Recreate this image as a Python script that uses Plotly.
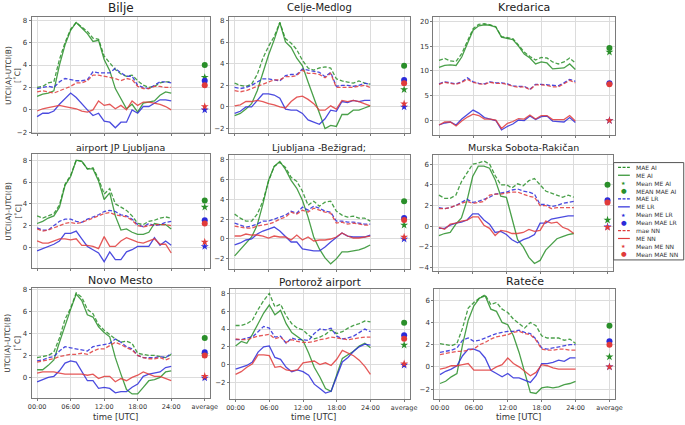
import plotly.graph_objects as go

hours = list(range(25))
avg_x = 30
stations = ["Bilje", "Celje-Medlog", "Kredarica",
            "airport JP Ljubljana", "Ljubljana -Bežigrad;", "Murska Sobota-Rakičan",
            "Novo Mesto", "Portorož airport", "Rateče"]
x_tick_vals = [0, 6, 12, 18, 24, 30]
x_tick_text = ["00:00", "06:00", "12:00", "18:00", "24:00", "average"]

# ---- Bilje
bilje_mae_ai = [2.0, 2.1, 2.4, 2.5, 4.5, 6.0, 7.2, 7.8, 7.4, 7.0, 6.4, 6.3, 4.8, 4.2, 3.6, 3.2, 3.0, 3.1, 2.6, 2.2, 2.0, 2.1, 2.4, 2.5, 2.5]
bilje_me_ai = [1.2, 1.4, 1.5, 1.7, 4.0, 5.8, 7.1, 7.8, 7.3, 6.8, 6.1, 6.2, 4.5, 3.5, 1.9, 1.0, 0.1, 0.5, -0.2, 0.6, 0.7, 0.8, 1.3, 1.6, 1.5]
bilje_mae_lr = [1.9, 2.0, 2.1, 2.0, 2.5, 2.8, 2.7, 2.6, 2.6, 2.7, 3.4, 3.3, 3.3, 3.3, 3.7, 3.3, 3.0, 3.0, 2.2, 2.0, 1.9, 2.2, 2.5, 2.5, 2.4]
bilje_me_lr = [-0.6, -0.3, -0.3, -0.1, 0.5, 1.0, 1.5, 1.1, 0.5, 0.0, -0.5, -0.3, -1.0, -1.1, -1.6, -1.1, -1.1, 0.0, -0.3, 0.3, 0.3, 0.6, 0.9, 0.9, 0.8]
bilje_mae_nn = [1.6, 1.7, 1.6, 1.5, 1.7, 1.9, 2.1, 2.4, 2.4, 2.6, 3.1, 3.1, 3.0, 2.9, 2.8, 2.6, 2.8, 2.7, 2.1, 1.9, 1.9, 2.1, 2.1, 2.0, 2.0]
bilje_me_nn = [-0.1, 0.1, 0.2, 0.3, 0.4, 0.3, 0.2, 0.1, -0.1, -0.2, 0.0, 0.8, 0.4, 0.5, 0.1, 0.4, 0.0, 0.8, 0.4, 0.7, 0.7, 0.6, 0.5, 0.3, 0.0]
bilje_means = [2.9, 4.0, 0.0, 2.6, 0.3, 2.2]  # ME AI, MAE AI, ME LR, MAE LR, ME NN, MAE NN

# ---- Celje-Medlog
celje_mae_ai = [2.2, 2.0, 1.9, 2.1, 3.0, 4.5, 5.6, 6.5, 7.8, 6.3, 5.9, 5.3, 4.3, 3.6, 3.4, 3.6, 3.7, 3.6, 2.6, 2.4, 2.3, 2.2, 2.4, 2.2, 2.1]
celje_me_ai = [-0.8, -0.6, -0.2, 0.3, 1.5, 3.2, 4.8, 6.2, 7.8, 6.0, 5.5, 4.5, 3.8, 2.3, 0.8, -0.6, -2.0, -1.7, -1.8, -0.7, -0.7, -0.3, -0.3, -0.1, 0.1]
celje_mae_lr = [1.8, 1.7, 1.8, 2.0, 2.3, 2.6, 2.6, 2.5, 2.4, 2.9, 3.0, 3.0, 3.5, 3.4, 3.3, 3.2, 2.8, 3.2, 1.9, 2.0, 2.0, 1.9, 2.0, 2.2, 2.1]
celje_me_lr = [-0.6, -0.4, 0.0, 0.0, 0.6, 1.2, 1.2, 1.1, 0.8, -0.2, -0.3, -0.3, -0.6, -1.2, -1.4, -1.6, -1.1, -0.3, -0.4, 0.5, 0.4, 0.6, 0.5, 0.6, 0.6]
celje_mae_nn = [1.5, 1.4, 1.5, 1.7, 1.9, 2.1, 2.3, 2.5, 2.5, 2.8, 2.8, 2.9, 3.4, 3.1, 3.1, 3.0, 2.7, 3.1, 1.8, 1.8, 1.8, 1.8, 1.9, 2.0, 1.8]
celje_me_nn = [0.1, 0.2, 0.5, 0.5, 0.6, 0.5, 0.3, 0.2, 0.0, -0.1, 0.5, 0.9, 1.0, 0.7, 0.3, -0.3, -0.3, 0.1, -0.2, 0.6, 0.5, 0.6, 0.5, 0.3, 0.1]
celje_means = [1.6, 3.8, 0.0, 2.5, 0.3, 2.2]

# ---- Kredarica
kred_mae_ai = [12.1, 12.5, 12.0, 11.9, 13.5, 16.0, 18.5, 19.4, 19.5, 19.3, 18.9, 16.9, 16.7, 16.5, 15.2, 13.8, 12.9, 12.2, 12.7, 12.6, 11.8, 11.4, 11.8, 12.6, 11.6]
kred_me_ai = [10.7, 11.1, 11.2, 11.1, 12.8, 15.5, 18.2, 19.1, 19.3, 19.2, 18.8, 16.8, 16.6, 16.3, 15.0, 13.4, 12.6, 11.4, 11.8, 11.6, 10.4, 10.5, 10.6, 11.4, 10.3]
kred_mae_lr = [7.4, 7.8, 7.6, 7.4, 7.8, 8.6, 7.8, 7.5, 7.4, 7.8, 7.6, 7.6, 7.4, 7.0, 6.9, 6.9, 6.3, 7.3, 7.3, 7.2, 7.0, 7.0, 7.6, 8.3, 7.9]
kred_me_lr = [-0.9, -0.5, -0.3, -0.9, 0.3, 1.3, 2.1, 1.5, 0.6, 0.3, 0.0, -1.9, -1.2, -0.7, 0.1, 0.0, 0.9, 0.2, 0.8, 0.9, -0.1, -0.2, -0.3, 0.6, -0.4]
kred_mae_nn = [7.3, 7.7, 7.5, 7.3, 7.7, 8.3, 7.7, 7.4, 7.3, 7.7, 7.5, 7.5, 7.3, 6.9, 6.7, 6.8, 6.2, 7.2, 7.2, 7.1, 6.8, 6.8, 7.4, 8.1, 7.6]
kred_me_nn = [-0.9, -0.3, -0.3, -1.1, -0.1, 0.7, 1.3, 1.0, 0.3, 0.3, 0.1, -1.6, -0.6, -0.2, 0.4, 0.3, 1.1, 0.3, 1.0, 1.0, 0.2, 0.2, 0.2, 1.0, -0.1]
kred_means = [13.8, 14.6, 0.0, 7.5, 0.0, 7.3]

# ---- airport JP Ljubljana
airp_mae_ai = [2.9, 2.7, 2.9, 3.1, 3.9, 5.8, 6.6, 8.0, 7.9, 7.2, 7.3, 6.3, 4.9, 5.4, 4.0, 3.7, 3.4, 2.9, 2.2, 2.1, 2.4, 2.5, 2.7, 2.8, 2.7]
airp_me_ai = [2.2, 2.4, 2.7, 2.9, 3.7, 5.7, 6.5, 8.0, 7.9, 7.2, 7.2, 6.1, 4.4, 5.0, 2.9, 1.6, 1.7, 1.4, 1.2, 1.2, 1.4, 2.2, 2.1, 2.1, 1.7]
airp_mae_lr = [1.8, 1.6, 1.6, 2.0, 2.4, 2.6, 2.6, 2.4, 2.3, 2.6, 2.8, 3.0, 3.3, 3.4, 3.3, 3.0, 2.9, 2.6, 2.1, 1.9, 2.2, 2.0, 2.1, 2.3, 2.4]
airp_me_lr = [-0.3, -0.1, 0.1, 0.3, 0.6, 1.3, 1.3, 1.5, 0.8, 0.1, -0.2, -0.5, -1.3, -0.4, -1.1, -1.1, -0.4, -0.2, 0.1, 0.1, 0.1, 0.9, 0.2, 0.6, 0.2]
airp_mae_nn = [1.7, 1.5, 1.6, 1.8, 2.0, 2.2, 2.3, 2.2, 2.3, 2.5, 2.7, 2.9, 3.1, 3.2, 3.0, 2.9, 2.8, 2.5, 2.0, 1.9, 2.0, 2.1, 2.1, 2.1, 2.0]
airp_me_nn = [0.6, 0.4, 0.4, 0.6, 0.8, 0.8, 0.7, 0.8, 0.2, 0.2, 0.1, -0.1, 1.0, 0.1, 0.1, 0.6, 0.9, 0.7, 0.5, 0.4, 0.6, 0.8, 0.3, 0.3, -0.5]
airp_means = [3.7, 4.3, 0.1, 2.5, 0.5, 2.2]

# ---- Ljubljana-Bezigrad
bez_mae_ai = [2.5, 2.1, 1.8, 1.8, 2.5, 3.8, 5.8, 7.3, 7.7, 7.2, 6.2, 5.8, 4.8, 3.4, 3.8, 3.3, 3.7, 3.8, 2.8, 2.4, 2.2, 2.3, 2.1, 2.1, 1.8]
bez_me_ai = [-1.7, -1.1, -0.5, 0.2, 1.4, 3.5, 5.9, 7.3, 7.8, 7.0, 5.9, 5.1, 3.9, 2.2, 0.2, -1.0, -1.9, -2.5, -2.0, -1.3, -1.3, -1.2, -1.1, -0.9, -0.6]
bez_mae_lr = [1.6, 1.4, 1.2, 1.3, 1.5, 1.8, 1.8, 2.0, 2.2, 2.4, 2.8, 2.6, 3.2, 2.9, 3.3, 3.1, 2.8, 2.7, 1.8, 1.8, 1.7, 1.7, 1.6, 1.5, 1.5]
bez_me_lr = [-0.6, -0.4, -0.1, 0.0, 0.5, 0.8, 1.0, 1.2, 0.8, 0.2, -0.3, -0.3, -1.0, -1.1, -1.2, -1.2, -0.8, -0.3, 0.2, 0.6, 0.3, 0.2, 0.2, 0.2, 0.4]
bez_mae_nn = [1.3, 1.2, 1.1, 1.1, 1.3, 1.4, 1.5, 1.7, 2.0, 2.2, 2.7, 2.5, 2.9, 2.7, 3.1, 2.9, 2.7, 2.6, 1.6, 1.7, 1.5, 1.6, 1.5, 1.4, 1.4]
bez_me_nn = [0.3, 0.3, 0.5, 0.4, 0.4, 0.3, 0.1, 0.3, 0.2, 0.2, -0.1, 0.4, -0.1, 0.2, -0.2, -0.1, -0.1, 0.0, 0.2, 0.6, 0.3, 0.1, 0.1, 0.2, 0.3]
bez_means = [1.4, 3.8, 0.0, 2.1, 0.2, 1.9]

# ---- Murska Sobota-Rakican
mur_mae_ai = [3.0, 2.7, 2.7, 3.0, 4.3, 5.2, 6.0, 6.1, 6.3, 6.0, 4.9, 4.0, 4.0, 3.7, 4.1, 3.9, 4.4, 4.6, 4.0, 3.4, 3.2, 3.0, 2.8, 3.0, 2.8]
mur_me_ai = [-0.9, -0.7, -0.6, 0.2, 0.8, 2.5, 4.8, 5.8, 5.8, 5.6, 4.5, 2.9, 2.8, 0.8, -1.3, -2.0, -3.0, -3.6, -3.3, -2.3, -1.7, -1.2, -1.0, -0.8, -0.7]
mur_mae_lr = [1.8, 1.7, 1.8, 2.0, 2.3, 2.6, 2.3, 2.4, 2.6, 2.8, 3.1, 3.2, 3.3, 3.5, 3.6, 3.4, 3.3, 3.1, 2.1, 2.1, 1.9, 2.0, 2.2, 2.3, 2.4]
mur_me_lr = [-0.2, -0.2, 0.1, 0.3, 0.4, 0.6, 1.2, 1.2, 0.6, 0.2, -0.6, -0.5, -0.8, -1.3, -1.6, -1.3, -1.1, -0.8, 0.3, 0.3, 0.7, 0.8, 0.9, 1.0, 1.0]
mur_mae_nn = [1.7, 1.7, 1.8, 2.0, 2.2, 2.4, 2.2, 2.3, 2.4, 3.0, 3.1, 3.1, 3.2, 3.3, 3.3, 3.1, 2.9, 2.8, 2.0, 2.0, 1.7, 1.8, 1.8, 1.8, 1.8]
mur_me_nn = [-0.1, -0.3, 0.2, 0.3, 0.5, 0.6, 0.9, 0.9, 0.1, -0.2, -0.9, -0.4, -0.5, -0.7, -0.7, -0.6, -0.3, -0.5, -0.4, 0.5, 0.3, 0.4, -0.1, -0.3, -0.7]
mur_means = [0.6, 4.0, -0.05, 2.5, -0.1, 2.3]

# ---- Novo Mesto
nm_mae_ai = [1.8, 1.9, 2.0, 2.3, 3.6, 5.3, 6.3, 7.7, 7.3, 6.2, 5.8, 4.8, 4.3, 3.9, 3.5, 3.2, 3.3, 3.1, 2.2, 2.1, 2.0, 2.0, 1.9, 1.8, 2.1]
nm_me_ai = [0.7, 0.7, 1.1, 1.6, 3.2, 4.8, 6.2, 7.6, 7.0, 5.7, 5.5, 4.6, 4.1, 3.7, 1.8, 0.3, -1.1, -1.5, -1.5, -0.9, -0.3, -0.2, 0.0, 0.5, 0.6]
nm_mae_lr = [1.5, 1.6, 1.8, 1.9, 2.4, 2.8, 2.7, 2.6, 2.5, 2.4, 2.8, 2.9, 3.0, 3.1, 3.5, 3.2, 2.8, 2.6, 2.0, 1.8, 1.8, 1.8, 1.9, 1.8, 2.2]
nm_me_lr = [-0.4, -0.2, 0.0, 0.1, 0.6, 1.3, 1.5, 1.4, 0.6, -0.3, -0.3, -1.0, -0.9, -1.0, -1.4, -1.3, -1.3, -0.9, -0.6, 0.1, 0.3, 0.4, 0.5, 0.9, 1.0]
nm_mae_nn = [1.4, 1.5, 1.6, 1.7, 1.9, 2.0, 2.1, 2.1, 2.2, 2.1, 2.4, 2.6, 2.6, 2.9, 3.2, 3.0, 2.7, 2.5, 2.0, 1.8, 1.7, 1.7, 1.8, 1.6, 1.8]
nm_me_nn = [0.4, 0.5, 0.5, 0.5, 0.4, 0.3, 0.3, 0.3, 0.3, 0.2, 0.3, -0.1, 0.1, 0.1, -0.4, -0.1, -0.3, 0.0, 0.2, 0.5, 0.3, 0.1, 0.1, -0.1, -0.3]
nm_means = [2.05, 3.6, -0.05, 2.3, 0.1, 2.0]

# ---- Portoroz airport
por_mae_ai = [4.4, 4.4, 4.6, 5.0, 6.2, 7.2, 8.0, 6.5, 6.8, 5.5, 4.6, 4.1, 3.9, 3.3, 2.9, 3.1, 3.4, 3.9, 3.5, 3.7, 4.1, 4.4, 4.6, 4.9, 4.8]
por_me_ai = [2.1, 2.6, 2.4, 3.4, 4.6, 5.8, 6.7, 5.6, 6.1, 4.6, 3.6, 3.1, 2.7, 1.3, -0.3, -1.4, -2.7, -3.0, -1.2, 0.7, 1.1, 1.5, 2.1, 2.4, 1.9]
por_mae_lr = [2.8, 2.8, 3.0, 3.1, 3.7, 4.3, 4.1, 3.1, 3.2, 2.4, 3.0, 2.8, 2.8, 2.7, 3.5, 4.0, 3.9, 4.1, 3.2, 2.9, 3.0, 3.2, 3.6, 4.0, 3.7]
por_me_lr = [-0.5, -0.3, -0.1, 0.3, 1.4, 2.0, 2.1, 0.8, 0.6, -0.3, -0.8, -0.6, -0.8, -1.2, -2.2, -2.7, -3.2, -3.0, -1.3, 0.3, 0.8, 1.5, 2.0, 2.3, 2.2]
por_mae_nn = [2.9, 2.8, 2.8, 3.0, 3.2, 3.3, 3.4, 2.9, 3.1, 2.5, 2.8, 2.6, 2.5, 2.5, 2.6, 2.8, 2.9, 3.1, 3.0, 2.9, 2.8, 2.9, 3.0, 3.1, 3.1]
por_me_nn = [-1.1, -0.8, -0.3, 0.1, 1.1, 1.1, 1.0, -0.3, -0.2, -0.6, -0.7, -0.6, 0.2, 0.3, 0.4, 0.0, 0.2, -0.1, 0.6, 1.6, 1.3, 1.0, 0.5, -0.2, -1.1]
por_means = [2.2, 4.7, -0.05, 3.3, 0.1, 2.9]

# ---- Ratece
rat_mae_ai = [2.1, 2.0, 1.9, 2.1, 3.5, 5.3, 5.8, 6.2, 6.5, 5.6, 5.8, 5.2, 4.9, 4.3, 3.9, 3.5, 4.0, 3.7, 2.8, 2.6, 2.6, 2.6, 2.4, 2.5, 2.1]
rat_me_ai = [-1.5, -1.3, -0.9, -0.6, 2.0, 4.2, 5.5, 6.2, 6.4, 5.2, 5.0, 4.0, 3.8, 2.8, 1.3, -0.5, -2.3, -2.4, -1.9, -1.8, -1.9, -1.8, -1.6, -1.5, -1.3]
rat_mae_lr = [1.3, 1.4, 1.5, 1.7, 2.4, 2.6, 2.3, 2.4, 2.6, 2.8, 3.0, 3.1, 3.2, 3.2, 3.3, 3.1, 3.0, 2.5, 1.7, 1.6, 1.7, 1.8, 1.9, 2.0, 2.0]
rat_me_lr = [-0.7, -0.4, -0.2, 0.1, 1.0, 1.6, 1.6, 1.4, 0.8, -0.3, -0.6, -0.9, -0.6, -1.0, -1.0, -1.2, -1.4, -0.8, 0.3, 0.3, 0.4, 0.6, 0.5, 0.8, 0.8]
rat_mae_nn = [1.1, 1.2, 1.3, 1.4, 1.4, 1.5, 1.6, 2.0, 2.2, 2.5, 2.7, 2.8, 2.9, 3.1, 3.2, 3.0, 2.9, 2.4, 1.6, 1.5, 1.5, 1.6, 1.6, 1.5, 1.5]
rat_me_nn = [-0.2, -0.1, 0.1, 0.1, 0.2, 0.3, -0.3, -0.3, -0.3, -0.3, 0.0, 0.2, 0.8, 0.3, 0.0, -0.4, -0.8, -0.5, 0.2, 0.1, -0.1, -0.2, -0.2, -0.2, -0.2]
rat_means = [0.9, 3.7, 0.0, 2.3, 0.0, 2.0]

series = [
    (bilje_mae_ai, bilje_me_ai, bilje_mae_lr, bilje_me_lr, bilje_mae_nn, bilje_me_nn, bilje_means),
    (celje_mae_ai, celje_me_ai, celje_mae_lr, celje_me_lr, celje_mae_nn, celje_me_nn, celje_means),
    (kred_mae_ai, kred_me_ai, kred_mae_lr, kred_me_lr, kred_mae_nn, kred_me_nn, kred_means),
    (airp_mae_ai, airp_me_ai, airp_mae_lr, airp_me_lr, airp_mae_nn, airp_me_nn, airp_means),
    (bez_mae_ai, bez_me_ai, bez_mae_lr, bez_me_lr, bez_mae_nn, bez_me_nn, bez_means),
    (mur_mae_ai, mur_me_ai, mur_mae_lr, mur_me_lr, mur_mae_nn, mur_me_nn, mur_means),
    (nm_mae_ai, nm_me_ai, nm_mae_lr, nm_me_lr, nm_mae_nn, nm_me_nn, nm_means),
    (por_mae_ai, por_me_ai, por_mae_lr, por_me_lr, por_mae_nn, por_me_nn, por_means),
    (rat_mae_ai, rat_me_ai, rat_mae_lr, rat_me_lr, rat_mae_nn, rat_me_nn, rat_means),
]

y_ranges = [[-2.1, 8.3], [-2.45, 8.33], [-3.0, 20.9],
            [-1.86, 8.55], [-3.0, 8.43], [-4.3, 6.86],
            [-1.9, 8.18], [-3.9, 8.55], [-2.92, 7.05]]
y_dticks = [2, 2, 5, 2, 2, 2, 2, 2, 2]

W, H = 685, 425
# subplot boxes in pixels: left, right, top, bottom
boxes = [(28, 210, 15, 133), (229, 413, 15, 133), (437, 622, 15, 135),
         (28, 210, 154, 269), (229, 413, 155, 270), (437, 620, 155, 272),
         (28, 210, 289, 401), (230, 413, 290, 402), (438, 622, 290, 402)]
title_sizes = [12, 10, 11, 9.5, 9.5, 9.5, 11, 10.5, 11]
title_centers = [6, 6, 6, 147, 147, 147, 282, 283, 283]

col_green = "#2a8f2a"
col_blue = "#2b2bd9"
col_red = "#e03b3b"
DASH = "4px,2px"
models = [(col_green, "MAE AI", "ME AI", "Mean ME AI", "MEAN MAE AI"),
          (col_blue, "MAE LR", "ME LR", "Mean ME LR", "Mean MAE LR"),
          (col_red, "mae NN", "ME NN", "Mean ME NN", "Mean MAE NN")]

fig = go.Figure()
annotations = []
shapes = []
for i, st in enumerate(series):
    ax = "" if i == 0 else str(i + 1)
    xa, ya = "x" + ax, "y" + ax
    means = st[6]
    for m, (col, n_mae, n_me, n_mme, n_mmae) in enumerate(models):
        mae = st[2 * m]
        me = st[2 * m + 1]
        fig.add_trace(go.Scatter(x=hours, y=mae, mode="lines", name=n_mae,
                                 line=dict(color=col, width=1.3, dash=DASH), opacity=0.85,
                                 xaxis=xa, yaxis=ya, showlegend=False))
        fig.add_trace(go.Scatter(x=hours, y=me, mode="lines", name=n_me,
                                 line=dict(color=col, width=1.3), opacity=0.85,
                                 xaxis=xa, yaxis=ya, showlegend=False))
        fig.add_trace(go.Scatter(x=[avg_x], y=[means[2 * m]], mode="markers", name=n_mme,
                                 marker=dict(color=col, symbol="star", size=6),
                                 xaxis=xa, yaxis=ya, showlegend=False))
        fig.add_trace(go.Scatter(x=[avg_x], y=[means[2 * m + 1]], mode="markers", name=n_mmae,
                                 marker=dict(color=col, symbol="circle", size=6),
                                 xaxis=xa, yaxis=ya, showlegend=False))

    l, r, t, b = boxes[i]
    bottom_row = i >= 6
    axis_common = dict(showline=True, linecolor="#7a7a7a", linewidth=1, mirror=True,
                       ticks="outside", ticklen=2, tickcolor="#7a7a7a",
                       showgrid=True, gridcolor="#dcdcdc", gridwidth=1, zeroline=False,
                       tickfont=dict(size=6.5, color="#333", family="DejaVu Sans"))
    fig.layout["xaxis" + ax] = dict(axis_common, domain=[l / W, r / W], anchor=ya,
                                    range=[-1.0, 31.0], tickvals=x_tick_vals, ticktext=x_tick_text,
                                    showticklabels=bottom_row)
    fig.layout["yaxis" + ax] = dict(axis_common, domain=[1 - b / H, 1 - t / H], anchor=xa,
                                    range=y_ranges[i], dtick=y_dticks[i], tick0=0,
                                    tickfont=dict(size=7, color="#333", family="DejaVu Sans"))
    annotations.append(dict(text=stations[i], x=(l + r) / 2 / W, y=1 - title_centers[i] / H,
                            xref="paper", yref="paper", xanchor="center", yanchor="middle",
                            showarrow=False, font=dict(size=title_sizes[i], color="#222")))
    if i % 3 == 0:
        annotations.append(dict(text="UTCI(A)-UTCI(B)<br>[˚C]", x=9 / W, y=1 - (t + b) / 2 / H,
                                xref="paper", yref="paper", xanchor="center", yanchor="middle",
                                textangle=-90, showarrow=False,
                                font=dict(size=7.5, color="#333")))
    if bottom_row:
        annotations.append(dict(text="time [UTC]", x=(l + r - 12) / 2 / W, y=1 - 420 / H,
                                xref="paper", yref="paper", xanchor="center", yanchor="middle",
                                showarrow=False, borderpad=0,
                                font=dict(size=8.5, color="#333")))

# ---- legend (drawn as a compact box like the reference)
leg_left, leg_top, leg_bottom = 620.5, 162.5, 261
shapes.append(dict(type="rect", xref="paper", yref="paper",
                   x0=leg_left / W, x1=1.01, y0=1 - leg_bottom / H, y1=1 - leg_top / H,
                   line=dict(color="#555", width=1), fillcolor="white", layer="above"))
row = 0
for col, n_mae, n_me, n_mme, n_mmae in models:
    for kind, label in (("dash", n_mae), ("solid", n_me), ("star", n_mme), ("circle", n_mmae)):
        yc = 1 - (167.3 + 8.0 * row) / H
        if kind in ("dash", "solid"):
            shapes.append(dict(type="line", xref="paper", yref="paper",
                               x0=625 / W, x1=637 / W, y0=yc, y1=yc, layer="above",
                               line=dict(color=col, width=1.2,
                                         dash="3px,1.5px" if kind == "dash" else "solid")))
        else:
            annotations.append(dict(text="★" if kind == "star" else "●", x=631 / W, y=yc,
                                    xref="paper", yref="paper", xanchor="center", yanchor="middle",
                                    showarrow=False,
                                    font=dict(size=5 if kind == "star" else 6.5, color=col)))
        annotations.append(dict(text=label, x=641 / W, y=yc, xref="paper", yref="paper",
                                xanchor="left", yanchor="middle", showarrow=False,
                                font=dict(size=6, color="#333")))
        row += 1

fig.update_layout(
    width=W, height=H, margin=dict(l=0, r=0, t=0, b=0),
    paper_bgcolor="white", plot_bgcolor="white",
    font=dict(family="DejaVu Sans", color="#333"),
    annotations=annotations, shapes=shapes, showlegend=False,
)
fig.write_html("out.html", config={"displayModeBar": False, "staticPlot": True},
               post_script="document.body.style.margin='0px';document.body.style.overflow='hidden';")
